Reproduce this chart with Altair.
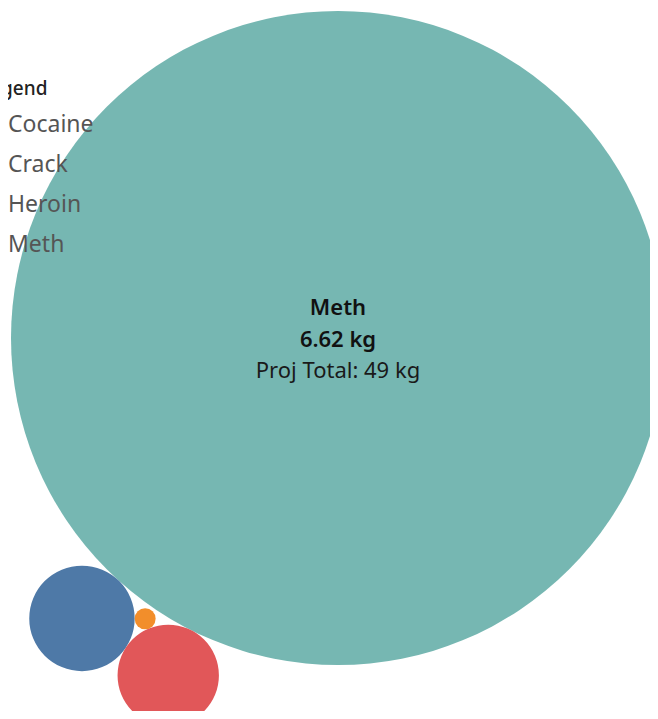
import math
import altair as alt
import pandas as pd

# ---- data ----
categories = ["Cocaine", "Crack", "Heroin", "Meth"]
weight_kg = [0.172, 0.0068, 0.159, 6.62]
proj_total_kg = [None, None, None, 49]
labelled_category = "Meth"
palette = ["#4e79a7", "#f28e2b", "#e15759", "#76b7b2"]
legend_title = "Legend"

# ---- layout parameters (pixels) ----
W, H = 642, 703
R_MAX = 327            # radius of the largest bubble
CENTER = (330, 330)    # centre of the largest bubble
START_ANGLE = 132.4    # direction of the second bubble (degrees, y down)
FONT = "Noto Sans"

max_w = max(weight_kg)
radius = [R_MAX * math.sqrt(v / max_w) for v in weight_kg]


def tangent(a, ra, b, rb, rc, sign):
    """centre of a circle of radius rc touching circles (a, ra) and (b, rb)"""
    dx, dy = b[0] - a[0], b[1] - a[1]
    d = math.hypot(dx, dy)
    s1, s2 = ra + rc, rb + rc
    cos_a = (d * d + s1 * s1 - s2 * s2) / (2 * d * s1)
    alpha = math.acos(max(-1.0, min(1.0, cos_a))) * sign
    base = math.atan2(dy, dx) + alpha
    return (a[0] + s1 * math.cos(base), a[1] + s1 * math.sin(base))


# simple packing in descending size: largest in the centre, the next one
# touching it, each further bubble touching the two placed just before it
order = sorted(range(len(categories)), key=lambda i: -weight_kg[i])
pos = [None] * len(categories)
i0, i1 = order[0], order[1]
pos[i0] = CENTER
ang = math.radians(START_ANGLE)
pos[i1] = (CENTER[0] + (radius[i0] + radius[i1]) * math.cos(ang),
           CENTER[1] + (radius[i0] + radius[i1]) * math.sin(ang))
for k in range(2, len(order)):
    a, b, c = order[k - 2], order[k - 1], order[k]
    if k == 2:
        pos[c] = tangent(pos[a], radius[a], pos[b], radius[b], radius[c], -1)
    else:
        # nestle between the two previous bubbles, on the side facing the centre
        pos[c] = tangent(pos[b], radius[b], pos[a], radius[a], radius[c], 1)
        pos_alt = tangent(pos[b], radius[b], pos[a], radius[a], radius[c], -1)
        if math.dist(pos_alt, CENTER) < math.dist(pos[c], CENTER):
            pos[c] = pos_alt
        if math.dist(pos[c], CENTER) < radius[i0] + radius[c]:
            pos[c] = pos_alt if pos[c] != pos_alt else tangent(
                pos[b], radius[b], pos[a], radius[a], radius[c], 1)

df = pd.DataFrame({
    "category": categories,
    "weight": weight_kg,
    "px": [p[0] for p in pos],
    "py": [p[1] for p in pos],
    "proj": proj_total_kg,
})
df["weight_label"] = df["weight"].map(lambda v: f"{v:.2f} kg")
df["proj_label"] = df["proj"].map(lambda v: "" if pd.isna(v) else f"Proj Total: {v:.0f} kg")

x_enc = alt.X("px:Q", scale=alt.Scale(domain=[0, W], range=[0, W], nice=False, zero=False), axis=None)
y_enc = alt.Y("py:Q", scale=alt.Scale(domain=[0, H], range=[0, H], nice=False, zero=False), axis=None)

base = alt.Chart(df)

circles = base.mark_circle(opacity=1, clip=True, strokeWidth=0).encode(
    x=x_enc,
    y=y_enc,
    size=alt.Size("weight:Q",
                  scale=alt.Scale(type="linear", domain=[0, max_w], range=[0, 4 * R_MAX * R_MAX]),
                  legend=None),
    color=alt.Color("category:N",
                    scale=alt.Scale(domain=categories, range=palette),
                    legend=alt.Legend(
                        title=legend_title,
                        orient="none",
                        legendX=-28,
                        legendY=72,
                        padding=0,
                        titleFont=FONT,
                        titleFontSize=19,
                        titleFontWeight=500,
                        titleColor="#222222",
                        titlePadding=14,
                        labelFont=FONT,
                        labelFontSize=23,
                        labelColor="#555555",
                        labelOffset=5,
                        symbolType="circle",
                        symbolSize=400,
                        symbolStrokeWidth=0,
                        rowPadding=16,
                    )),
    order=alt.Order("weight:Q", sort="descending"),
)

lab = base.transform_filter(alt.datum.category == labelled_category)

t1 = lab.mark_text(font=FONT, fontSize=22, fontWeight=600, color="#111111",
                   baseline="alphabetic", dy=-23).encode(x=x_enc, y=y_enc, text="category:N")
t2 = lab.mark_text(font=FONT, fontSize=22, fontWeight=600, color="#111111",
                   baseline="alphabetic", dy=9).encode(x=x_enc, y=y_enc, text="weight_label:N")
t3 = lab.mark_text(font=FONT, fontSize=22, color="#1a1a1a",
                   baseline="alphabetic", dy=40).encode(x=x_enc, y=y_enc, text="proj_label:N")

chart = alt.layer(circles, t1, t2, t3).properties(
    width=W,
    height=H,
    autosize=alt.AutoSizeParams(type="none"),
    padding=0,
    background="white",
).configure_view(stroke=None)

chart.save("out.html", embed_options={"renderer": "svg", "actions": False})
